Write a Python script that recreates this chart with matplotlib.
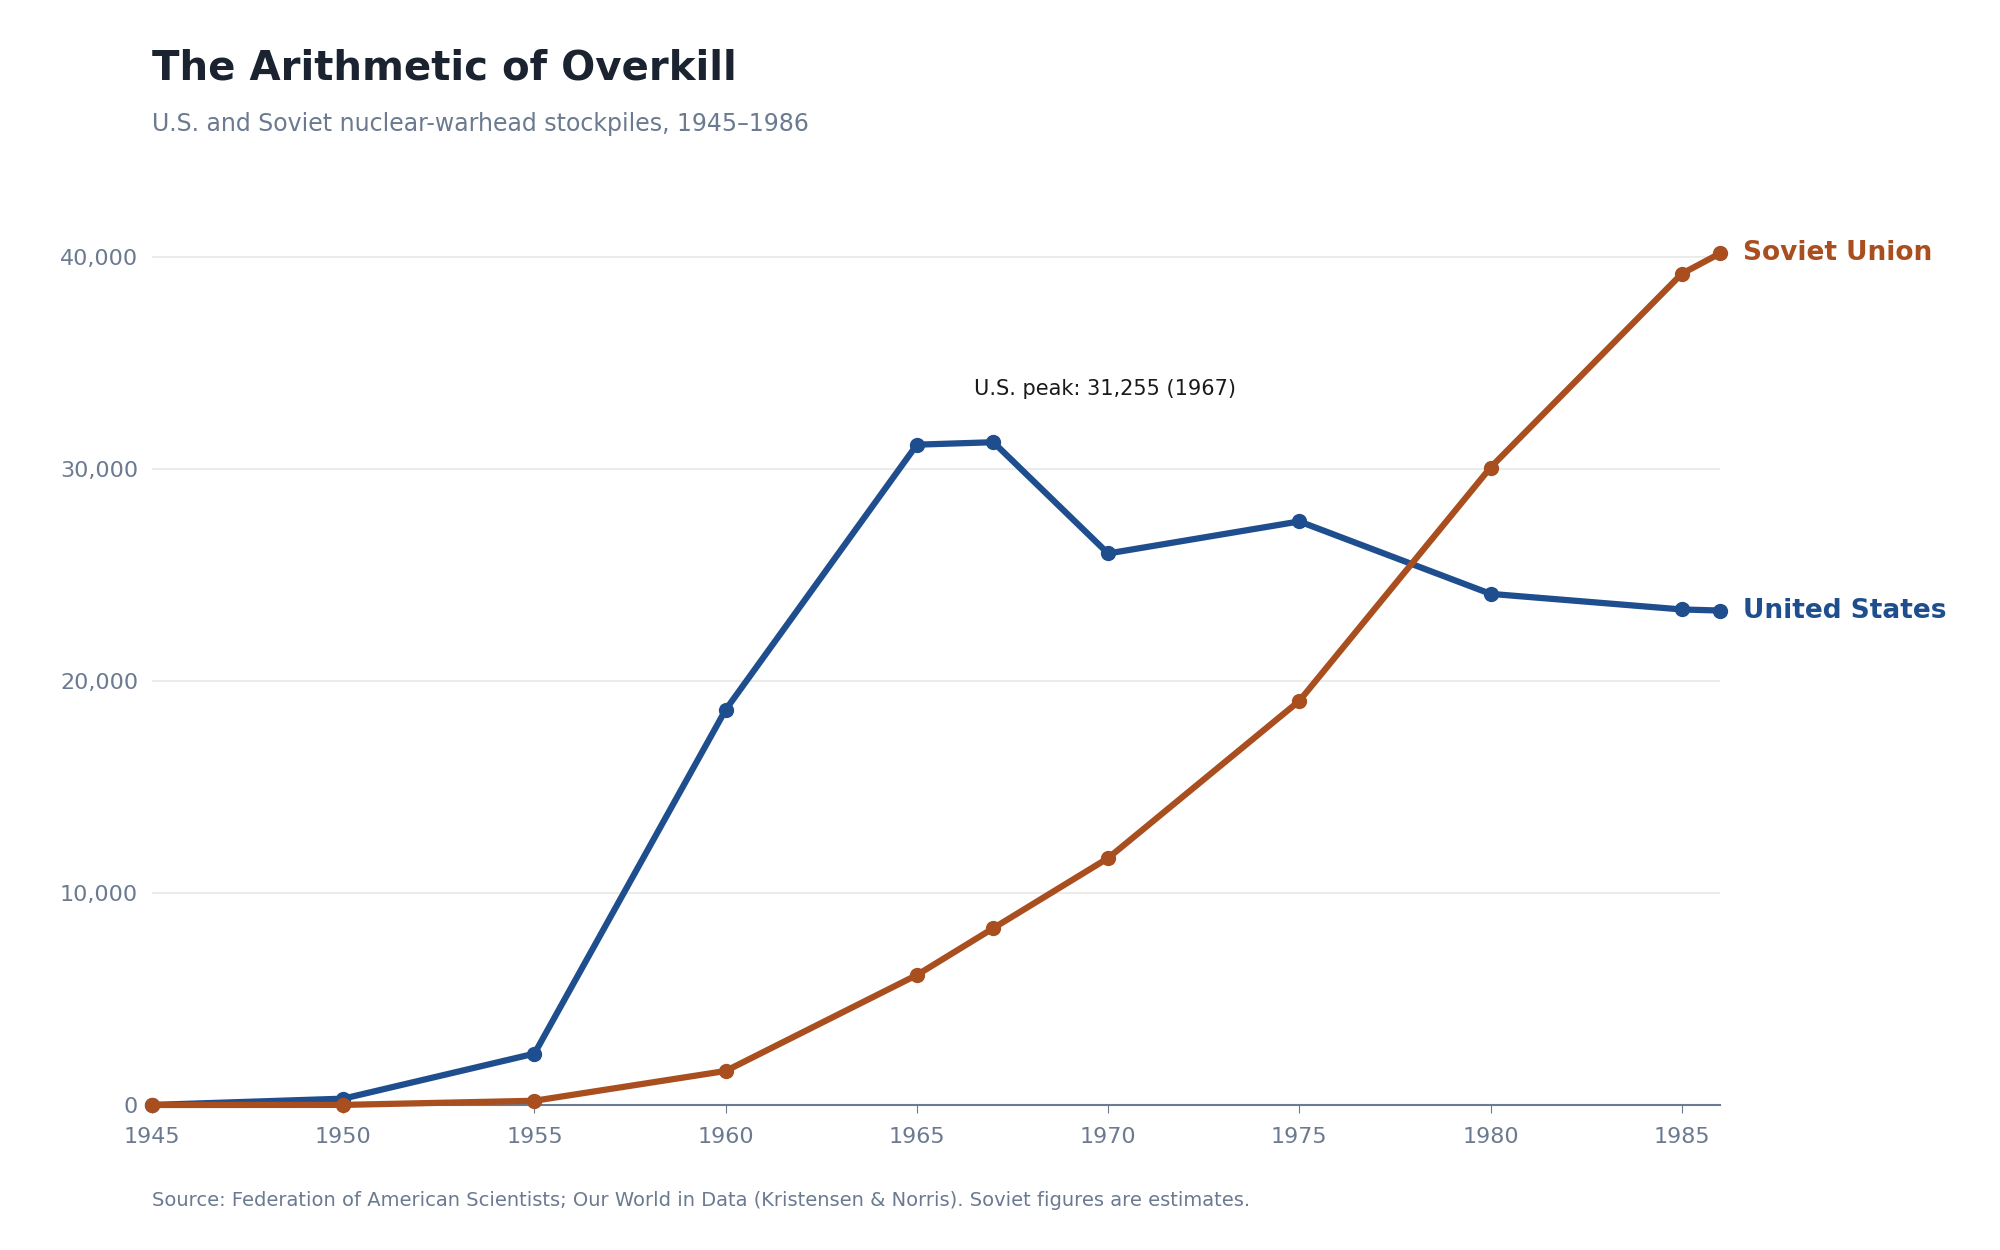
import matplotlib
matplotlib.use("Agg")
import matplotlib.pyplot as plt

years = [1945, 1950, 1955, 1960, 1965, 1967, 1970, 1975, 1980, 1985, 1986]
us = [2, 299, 2422, 18638, 31139, 31255, 26008, 27519, 24104, 23368, 23317]
ussr = [0, 5, 200, 1605, 6129, 8339, 11643, 19055, 30062, 39197, 40159]
xticks = [1945, 1950, 1955, 1960, 1965, 1970, 1975, 1980, 1985]
yticks = [0, 10000, 20000, 30000, 40000]

blue = "#1f4e8f"
orange = "#a94f1f"
grey = "#6b7a90"

fig = plt.figure(figsize=(20, 12.5), dpi=100)
ax = fig.add_axes([0.076, 0.116, 0.784, 0.721])
ax.plot(years, us, color=blue, lw=4.5, marker="o", ms=10, zorder=3, clip_on=False)
ax.plot(years, ussr, color=orange, lw=4.5, marker="o", ms=10, zorder=3, clip_on=False)
ax.set_xlim(1945, 1986)
ax.set_ylim(0, 42500)
ax.set_xticks(xticks)
ax.set_yticks(yticks)
ax.set_yticklabels([f"{v:,}" for v in yticks])
ax.grid(axis="y", color="#e8e8e8", lw=1.2)
ax.set_axisbelow(True)
for s in ["top", "right", "left"]:
    ax.spines[s].set_visible(False)
ax.spines["bottom"].set_color(grey)
ax.spines["bottom"].set_linewidth(1.5)
ax.tick_params(axis="both", colors=grey, labelsize=16, length=0, pad=10)
ax.tick_params(axis="x", length=6, color=grey)

ax.text(1986.6, ussr[-1], "Soviet Union", color=orange, fontsize=19, fontweight="bold", va="center")
ax.text(1986.6, us[-1], "United States", color=blue, fontsize=19, fontweight="bold", va="center")
ax.annotate("U.S. peak: 31,255 (1967)", (1967, 31255), xytext=(1967, 33300),
            ha="left", va="bottom", fontsize=15, color="#1a1a1a")
for t in ax.texts[-1:]:
    t.set_position((1966.5, 33300))

fig.text(0.076, 0.936, "The Arithmetic of Overkill", fontsize=29, fontweight="bold", color="#1c2330", va="baseline")
fig.text(0.076, 0.895, "U.S. and Soviet nuclear-warhead stockpiles, 1945–1986", fontsize=17, color=grey, va="baseline")
fig.text(0.076, 0.035, "Source: Federation of American Scientists; Our World in Data (Kristensen & Norris). Soviet figures are estimates.",
         fontsize=14, color=grey, va="baseline")
fig.savefig("out.png", dpi=100, facecolor="white")
